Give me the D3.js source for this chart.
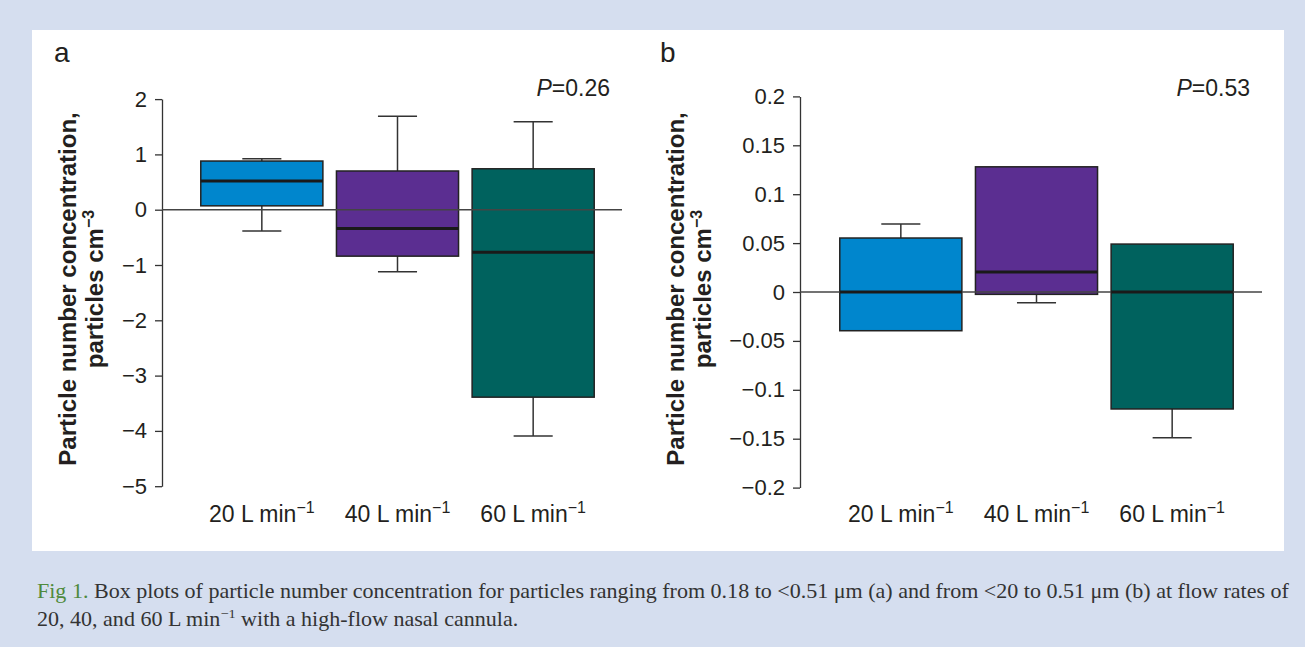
<!DOCTYPE html>
<html><head><meta charset="utf-8">
<script src="https://cdn.jsdelivr.net/npm/d3@7"></script>
<style>
html,body{margin:0;padding:0;background:#d5deef;}
svg{display:block;}
text{font-family:"Liberation Sans",Arial,sans-serif;fill:#231f20;}
</style></head>
<body>
<svg id="chart" width="1305" height="647"></svg>
<script>
// ---- data ----
const categories = ["20", "40", "60"];
const colors = ["#0086cd", "#5b2e91", "#00625e"];

// panel a: 0.18 to <0.51 µm
const aWhiskerLow  = [-0.385, -1.12, -4.09];
const aQ1          = [0.07, -0.84, -3.39];
const aMedian      = [0.52, -0.34, -0.77];
const aQ3          = [0.88, 0.70, 0.74];
const aWhiskerHigh = [0.92, 1.69, 1.59];
const aTicks = [2, 1, 0, -1, -2, -3, -4, -5];
const aP = "0.26";

// panel b: <20 to 0.51 µm
const bWhiskerLow  = [-0.0396, -0.011, -0.149];
const bQ1          = [-0.0396, -0.0024, -0.1196];
const bMedian      = [0.0, 0.0204, 0.0];
const bQ3          = [0.0552, 0.128, 0.049];
const bWhiskerHigh = [0.0695, 0.128, 0.049];
const bTicks = [0.2, 0.15, 0.1, 0.05, 0, -0.05, -0.1, -0.15, -0.2];
const bP = "0.53";

const yTitle1 = "Particle number concentration,";
const yTitle2 = "particles cm";
const captionLine1 = "Box plots of particle number concentration for particles ranging from 0.18 to <0.51 \u03bcm (a) and from <20 to 0.51 \u03bcm (b) at flow rates of";

const svg = d3.select("#chart");
svg.append("rect").attr("x",0).attr("y",0).attr("width",1305).attr("height",647).attr("fill","#d5deef");
svg.append("rect").attr("x",32).attr("y",30).attr("width",1252).attr("height",521).attr("fill","#ffffff");

const fmt = v => (v < 0 ? "\u2212" : "") + String(Math.abs(v));

function panel(o){
  const g = svg.append("g");
  const y = d3.scaleLinear().domain(o.domain).range([o.yBottom, o.yTop]);
  const x = d3.scaleBand().domain(categories).range(o.xRange).paddingInner(0.1).paddingOuter(0.05);

  // panel letter
  g.append("text").attr("x", o.letterX).attr("y", 62).attr("font-size", 28).text(o.letter);

  // y axis
  const ax = g.append("g").attr("transform", `translate(${o.axisX},0)`)
    .call(d3.axisLeft(y).tickValues(o.ticks).tickFormat(fmt).tickSize(7).tickPadding(8).tickSizeOuter(0));
  ax.attr("font-size", 22).attr("font-family", null);
  ax.select(".domain").attr("stroke","#333").attr("stroke-width",1.3);
  ax.selectAll(".tick line").attr("stroke","#333").attr("stroke-width",1.3);
  ax.selectAll(".tick text").attr("font-size",22).attr("fill","#231f20")
    .style("font-family",'"Liberation Sans",Arial,sans-serif');

  // y title
  const tg = g.append("g").attr("transform", `translate(${o.titleX},289) rotate(-90)`);
  tg.append("text").attr("x",0).attr("y",0).attr("text-anchor","middle")
    .attr("font-size",24).attr("font-weight","bold").text(yTitle1);
  const t2 = tg.append("text").attr("x",0).attr("y",27).attr("text-anchor","middle")
    .attr("font-size",24).attr("font-weight","bold");
  t2.append("tspan").text(yTitle2);
  t2.append("tspan").attr("dy",-9).attr("font-size",16).text("\u22123");

  const bw = x.bandwidth();
  const capW = bw * 0.32;
  categories.forEach((c,i)=>{
    const cx = x(c) + bw/2;
    // whiskers
    if (o.wh[i] > o.q3[i]) {
      g.append("line").attr("x1",cx).attr("x2",cx).attr("y1",y(o.q3[i])).attr("y2",y(o.wh[i])).attr("stroke","#333").attr("stroke-width",1.5);
      g.append("line").attr("x1",cx-capW/2).attr("x2",cx+capW/2).attr("y1",y(o.wh[i])).attr("y2",y(o.wh[i])).attr("stroke","#333").attr("stroke-width",1.5);
    }
    if (o.wl[i] < o.q1[i]) {
      g.append("line").attr("x1",cx).attr("x2",cx).attr("y1",y(o.q1[i])).attr("y2",y(o.wl[i])).attr("stroke","#333").attr("stroke-width",1.5);
      g.append("line").attr("x1",cx-capW/2).attr("x2",cx+capW/2).attr("y1",y(o.wl[i])).attr("y2",y(o.wl[i])).attr("stroke","#333").attr("stroke-width",1.5);
    }
    g.append("rect").attr("x",x(c)).attr("width",bw)
      .attr("y",y(o.q3[i])).attr("height",y(o.q1[i])-y(o.q3[i]))
      .attr("fill",colors[i]).attr("stroke","#222").attr("stroke-width",1.5);
  });
  // zero line
  g.append("line").attr("x1",o.axisX).attr("x2",o.zeroEnd).attr("y1",y(0)).attr("y2",y(0)).attr("stroke","#444").attr("stroke-width",1.4);
  // medians
  categories.forEach((c,i)=>{
    g.append("line").attr("x1",x(c)).attr("x2",x(c)+bw).attr("y1",y(o.med[i])).attr("y2",y(o.med[i]))
      .attr("stroke","#1a1a1a").attr("stroke-width",3);
  });
  // category labels
  categories.forEach((c,i)=>{
    const t = g.append("text").attr("x",x(c)+bw/2).attr("y",522).attr("text-anchor","middle").attr("font-size",23);
    t.append("tspan").text(c + " L min");
    t.append("tspan").attr("dy",-9).attr("font-size",16).text("\u22121");
  });
  // P value
  const p = g.append("text").attr("x",o.pX).attr("y",96).attr("text-anchor","end").attr("font-size",23);
  p.append("tspan").attr("font-style","italic").text("P");
  p.append("tspan").text("=" + o.p);
}

panel({letter:"a", letterX:54, domain:[-5,2], yBottom:486.2, yTop:99.1, xRange:[194,601], axisX:162, zeroEnd:622,
  ticks:aTicks, wl:aWhiskerLow, q1:aQ1, med:aMedian, q3:aQ3, wh:aWhiskerHigh, titleX:76, pX:610, p:aP});
panel({letter:"b", letterX:660, domain:[-0.2,0.2], yBottom:487.6, yTop:96.4, xRange:[833,1240], axisX:800, zeroEnd:1262,
  ticks:bTicks, wl:bWhiskerLow, q1:bQ1, med:bMedian, q3:bQ3, wh:bWhiskerHigh, titleX:684, pX:1250, p:bP});

// caption
const cap = svg.append("g");
const c1 = cap.append("text").attr("x",0).attr("y",598).attr("font-size",20)
  .style("font-family",'"Liberation Serif","DejaVu Serif",serif');
c1.append("tspan").style("fill","#4f8a3c").text("Fig 1. ");
c1.append("tspan").style("fill","#333").text(captionLine1);
const c2 = cap.append("text").attr("x",0).attr("y",626).attr("font-size",20)
  .style("font-family",'"Liberation Serif","DejaVu Serif",serif');
c2.append("tspan").style("fill","#333").text("20, 40, and 60 L min");
c2.append("tspan").style("fill","#333").attr("dy",-8).attr("font-size",13).text("\u22121");
c2.append("tspan").style("fill","#333").attr("dy",8).text(" with a high-flow nasal cannula.");
const w1 = c1.node().getComputedTextLength();
const sx = 1253 / w1;
cap.attr("transform", `translate(37,0) scale(${sx},1)`);
</script>
</body></html>
